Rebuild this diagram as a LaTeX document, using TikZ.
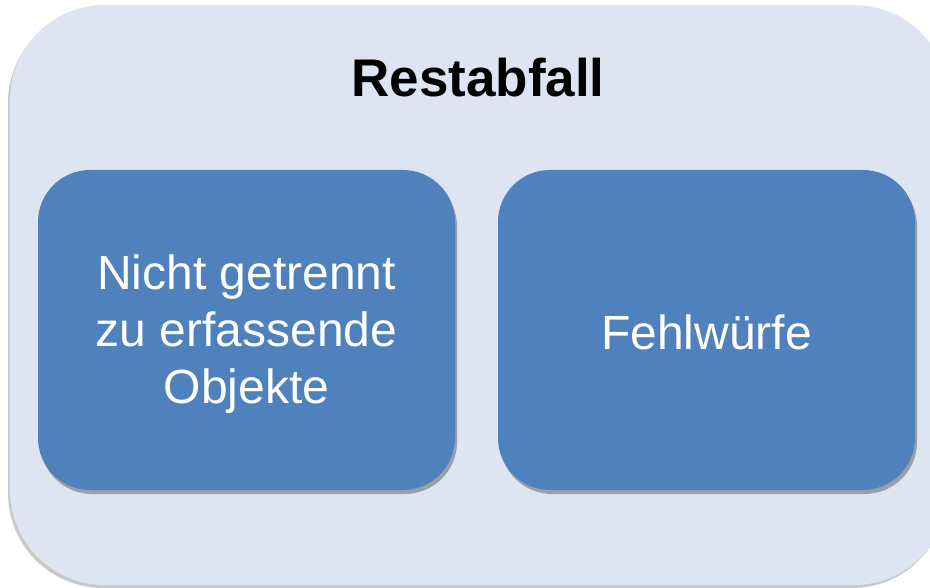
\documentclass[tikz,border=0pt]{standalone}
\usepackage{fontspec}
\setmainfont{Liberation Sans}
\usetikzlibrary{shadows}
\definecolor{outerfill}{HTML}{DCE5F1}
\definecolor{innerfill}{HTML}{4F81BD}
\tikzset{
  outerbox/.style={fill=outerfill, draw=none, rounded corners=95pt,
    drop shadow={shadow xshift=-2pt, shadow yshift=-3pt, opacity=0.35, fill=black!60}},
  innerbox/.style={fill=innerfill, draw=none, rounded corners=52pt,
    minimum width=417pt, minimum height=320pt, inner sep=0pt,
    text=white, align=center, font=\fontsize{48}{57}\selectfont,
    drop shadow={shadow xshift=2pt, shadow yshift=-4pt, opacity=0.45, fill=black!70}},
  titlefont/.style={font=\fontsize{53}{60}\selectfont\bfseries, text=black}
}
\begin{document}
\begin{tikzpicture}[x=1pt,y=-1pt]
\useasboundingbox (0,0) rectangle (930,588);
\clip (0,0) rectangle (930,588);
\fill[white] (0,0) rectangle (930,588);
\node[outerbox, minimum width=939pt, minimum height=580pt, inner sep=0pt] (outer) at (479.5,295) {};
\node[titlefont, anchor=base] (title) at (478,97) {Restabfall};
\node[innerbox] (left) at (246.5,330) {};
\node[text=white, align=center, font=\fontsize{48}{57}\selectfont] (lefttext) at (246.5,334) {Nicht getrennt\\zu erfassende\\Objekte};
\node[innerbox] (right) at (706.5,330) {};
\node[text=white, font=\fontsize{48}{57}\selectfont] (righttext) at (706.5,332) {Fehlwürfe};
\end{tikzpicture}
\end{document}
